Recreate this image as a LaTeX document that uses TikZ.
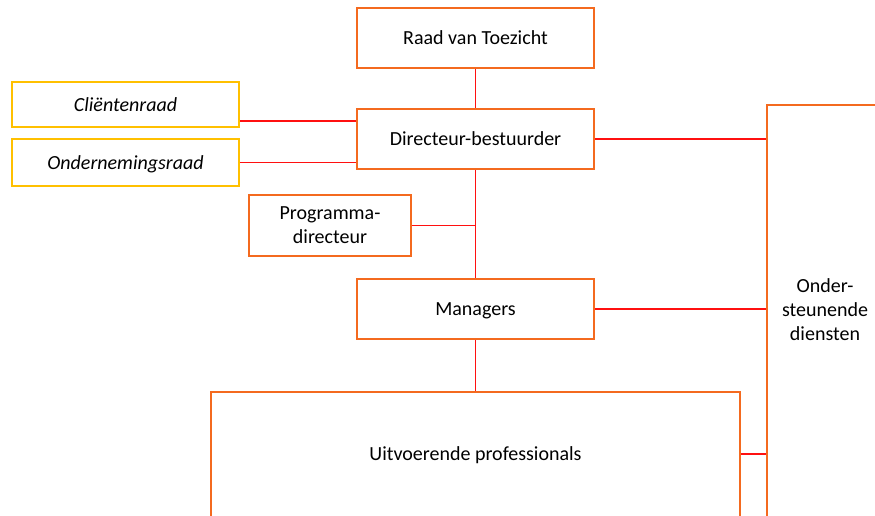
\documentclass[tikz,border=0pt]{standalone}
\usepackage{fontspec}
\setmainfont{Carlito}
\definecolor{kader}{HTML}{F46A1F}
\definecolor{geel}{HTML}{FFC000}
\definecolor{lijn}{HTML}{FF1010}
\begin{document}
\begin{tikzpicture}[x=1pt,y=-1pt,
    blok/.style={draw=kader, line width=2.4pt, minimum width=237pt, minimum height=60pt,
        inner sep=0pt, align=center, font=\fontsize{20}{24}\selectfont},
    regel/.style={text height=15pt, text depth=2pt},
    raad/.style={draw=geel, line width=1.8pt, minimum width=227pt, minimum height=45pt,
        inner sep=0pt, text height=15pt, text depth=2pt, font=\fontsize{20}{24}\selectfont\itshape},
    verbinding/.style={draw=lijn, line width=1.3pt}]
    \useasboundingbox (0,0) rectangle (875,515);
    \clip (0,0) rectangle (875,515);

    % Top
    \node[blok, regel] (toezicht) at (475.5,38) {Raad van Toezicht};
    \node[blok, regel] (directeur) at (475.5,139) {Directeur-bestuurder};

    % Raden links
    \node[raad] (clienten) at (125.5,104.5) {Cliëntenraad};
    \node[raad, minimum height=47pt] (or) at (125.5,162.5) {Ondernemingsraad};

    % Midden
    \node[blok, minimum width=162pt, minimum height=61pt] (programma) at (330,225.5) {Programma-\\directeur};
    \node[blok, regel] (managers) at (475.5,309) {Managers};

    % Onder en rechts (lopen door buiten beeld)
    \node[blok, minimum width=529pt, minimum height=156pt, text height=15pt, text depth=35pt] (uitvoerend) at (475.5,470) {Uitvoerende professionals};
    \node[blok, minimum width=116pt, minimum height=440pt, text depth=30pt] (diensten) at (825,325) {Onder-\\steunende\\diensten};

    % Lijnen
    \draw[verbinding] (toezicht) -- (directeur);
    \draw[verbinding] (directeur) -- (managers);
    \draw[verbinding] (managers) -- (uitvoerend);
    \draw[verbinding] ([yshift=-16.5pt]clienten.east) -- ([yshift=-16.5pt]clienten.east -| directeur.west);
    \draw[verbinding] (or.east) -- (or.east -| directeur.west);
    \draw[verbinding] (programma.east) -- (programma.east -| directeur.south);
    \draw[verbinding] (directeur.east) -- (directeur.east -| diensten.west);
    \draw[verbinding] (managers.east) -- (managers.east -| diensten.west);
    \draw[verbinding] ([yshift=16pt]uitvoerend.east) -- ([yshift=16pt]uitvoerend.east -| diensten.west);
\end{tikzpicture}
\end{document}
